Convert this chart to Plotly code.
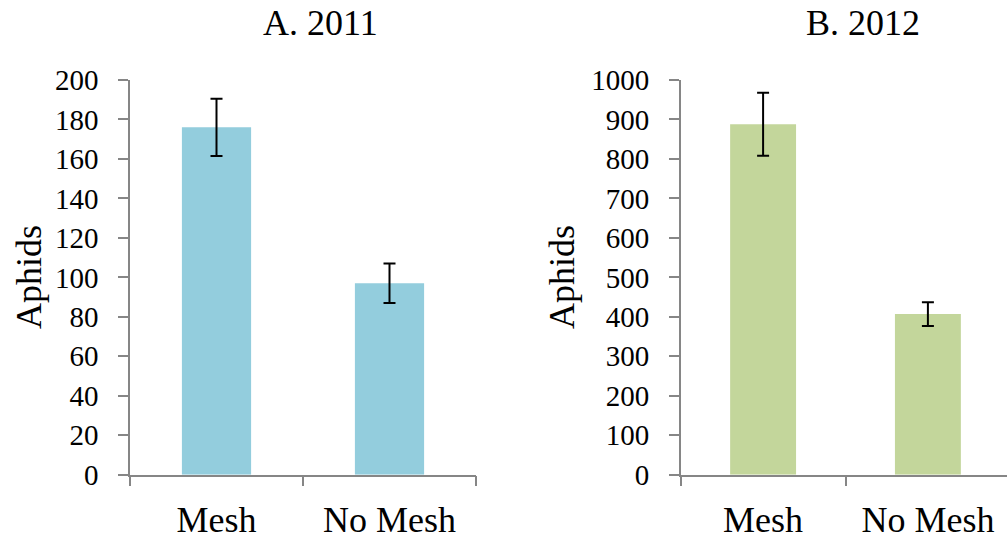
import plotly.graph_objects as go

categories = ["Mesh", "No Mesh"]
aphids_2011 = [176, 97]
err_2011 = [14.5, 10]
aphids_2012 = [888, 407]
err_2012 = [80, 30]
y_ticks_2011 = [0, 20, 40, 60, 80, 100, 120, 140, 160, 180, 200]
y_ticks_2012 = [0, 100, 200, 300, 400, 500, 600, 700, 800, 900, 1000]

W, H = 1007, 540
FONT = "Liberation Serif"
AXIS_GREY = "#868686"

fig = go.Figure()
fig.add_trace(go.Bar(
    x=categories, y=aphids_2011, width=0.4,
    marker=dict(color="#93CDDD", line=dict(width=0)),
    error_y=dict(type="data", array=err_2011, visible=True, color="black", thickness=2, width=6),
    xaxis="x", yaxis="y", showlegend=False,
))
fig.add_trace(go.Bar(
    x=categories, y=aphids_2012, width=0.4,
    marker=dict(color="#C3D69B", line=dict(width=0)),
    error_y=dict(type="data", array=err_2012, visible=True, color="black", thickness=2, width=6),
    xaxis="x2", yaxis="y2", showlegend=False,
))

y_dom = [(H - 474.7) / H, (H - 80) / H]

common_x = dict(
    type="category", showline=True, linecolor=AXIS_GREY, linewidth=1.5,
    ticks="outside", tickson="boundaries", ticklen=10, tickcolor=AXIS_GREY, tickwidth=1.5,
    showgrid=False, zeroline=False, automargin=False,
    tickfont=dict(family=FONT, size=36, color="black"),
    ticklabelstandoff=12,
)
common_y = dict(
    showline=True, linecolor=AXIS_GREY, linewidth=1.5,
    ticks="outside", ticklen=10, tickcolor=AXIS_GREY, tickwidth=1.5,
    showgrid=False, zeroline=False, automargin=False,
    tickfont=dict(family=FONT, size=29, color="black"),
    ticklabelstandoff=14,
)

fig.update_layout(
    width=W, height=H,
    font=dict(family=FONT, color="black"),
    margin=dict(l=0, r=0, t=0, b=0),
    paper_bgcolor="white", plot_bgcolor="white",
    bargap=0.6,
    xaxis=dict(common_x, domain=[130 / W, 476 / W], range=[-0.5, 1.5], anchor="y"),
    yaxis=dict(common_y, domain=y_dom, range=[0, 200], tickvals=y_ticks_2011, anchor="x"),
    xaxis2=dict(common_x, domain=[680.7 / W, 1.0], range=[-0.5, 1.48], anchor="y2"),
    yaxis2=dict(common_y, domain=y_dom, range=[0, 1000], tickvals=y_ticks_2012, anchor="x2"),
    annotations=[
        dict(text="A. 2011", x=320.5 / W, y=1 - 23.5 / H, xref="paper", yref="paper",
             xanchor="center", yanchor="middle", showarrow=False,
             font=dict(family=FONT, size=36, color="black")),
        dict(text="B. 2012", x=862.5 / W, y=1 - 23.5 / H, xref="paper", yref="paper",
             xanchor="center", yanchor="middle", showarrow=False,
             font=dict(family=FONT, size=36, color="black")),
        dict(text="Aphids", x=29 / W, y=1 - 277 / H, xref="paper", yref="paper",
             xanchor="center", yanchor="middle", showarrow=False, textangle=-90,
             font=dict(family=FONT, size=36, color="black")),
        dict(text="Aphids", x=562 / W, y=1 - 277 / H, xref="paper", yref="paper",
             xanchor="center", yanchor="middle", showarrow=False, textangle=-90,
             font=dict(family=FONT, size=36, color="black")),
    ],
)

fig.write_html("out.html", config={"displayModeBar": False},
               post_script="document.body.style.margin='0';")
